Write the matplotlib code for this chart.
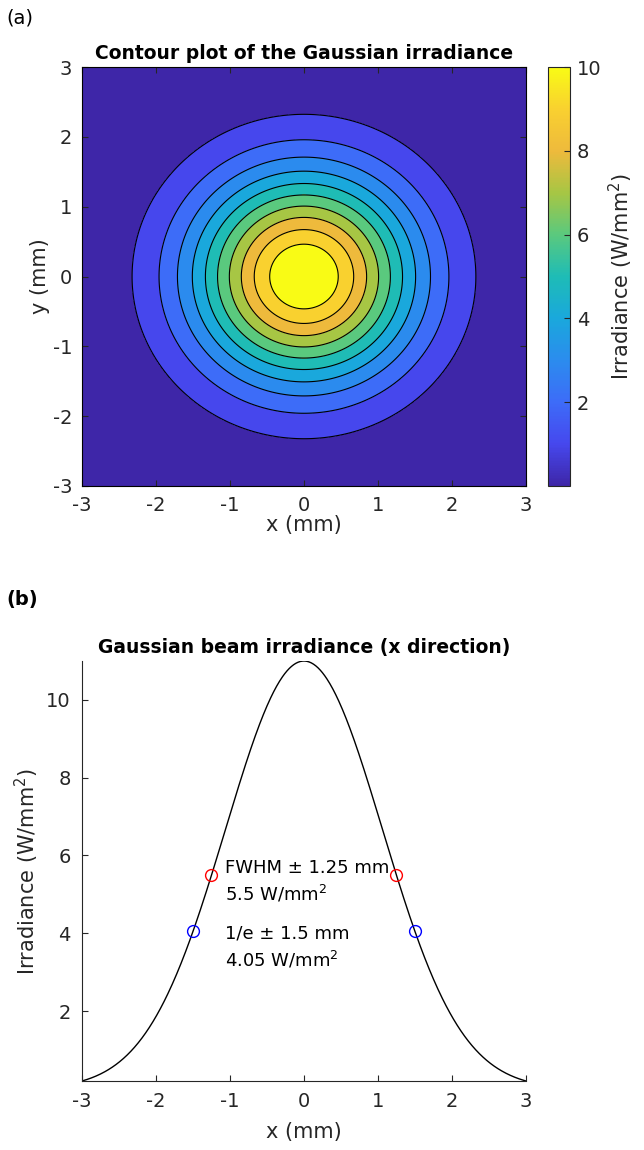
import numpy as np
import matplotlib
matplotlib.use("Agg")
import matplotlib.pyplot as plt
from matplotlib.colors import LinearSegmentedColormap, Normalize
from matplotlib.cm import ScalarMappable

# Beam values
peak_irr = 11.0          # W/mm^2, top of the profile
w_1e = 1.5               # mm, 1/e half width
fwhm_x = [-1.25, 1.25]
fwhm_y = [5.5, 5.5]
e_x = [-1.5, 1.5]
e_y = [4.05, 4.05]
contour_levels = [0, 1, 2, 3, 4, 5, 6, 7, 8, 9, 10, 11]
cbar_ticks = [2, 4, 6, 8, 10]
axis_ticks = [-3, -2, -1, 0, 1, 2, 3]
irr_ticks = [2, 4, 6, 8, 10]

# parula-like colormap
parula_pts = ['#3e26a8', '#4648ee', '#3d6cf8', '#2b8cee', '#1aa8dc', '#1ebcb6',
              '#5ac97e', '#a6c644', '#eeba3c', '#f9d030', '#f9fb15']
parula = LinearSegmentedColormap.from_list('parula', parula_pts)

plt.rcParams['font.family'] = ['DejaVu Sans']
plt.rcParams['axes.unicode_minus'] = False
dark = '#262626'

fig = plt.figure(figsize=(6.44, 11.5), dpi=100)

# ---- (a) contour plot ----
ax1 = fig.add_axes([0.1273, 0.5774, 0.6894, 0.3643])
x = np.linspace(-3, 3, 401)
X, Y = np.meshgrid(x, x)
Z = peak_irr * np.exp(-(X**2 + Y**2) / w_1e**2)

norm = Normalize(0, 10)
fill_cols = [parula(norm(l)) for l in contour_levels[:-1]]
ax1.contourf(X, Y, Z, levels=contour_levels, colors=fill_cols)
ax1.contour(X, Y, Z, levels=contour_levels[1:-1], colors='k', linewidths=0.8)
ax1.set_xlim(-3, 3)
ax1.set_ylim(-3, 3)
ax1.set_xticks(axis_ticks)
ax1.set_yticks(axis_ticks)
ax1.set_xlabel('x (mm)', fontsize=15, color=dark, labelpad=0)
ax1.set_ylabel('y (mm)', fontsize=15, color=dark, labelpad=2)
ax1.set_title('Contour plot of the Gaussian irradiance', fontsize=13.5,
              fontweight='bold', color='black', pad=6)
ax1.tick_params(direction='in', top=True, right=True, labelsize=14,
                colors=dark, length=4, pad=7)

cax = fig.add_axes([0.8509, 0.5774, 0.0342, 0.3643])
cb = fig.colorbar(ScalarMappable(norm=norm, cmap=parula), cax=cax)
cb.set_ticks(cbar_ticks)
cb.ax.tick_params(direction='in', labelsize=14, colors=dark, length=4, pad=5)
cb.set_label('Irradiance (W/mm$^2$)', fontsize=15, color=dark, labelpad=4)
cb.outline.set_edgecolor(dark)

# ---- (b) profile ----
ax2 = fig.add_axes([0.1273, 0.06, 0.6894, 0.3652])
xp = np.linspace(-3, 3, 601)
ax2.plot(xp, peak_irr * np.exp(-xp**2 / w_1e**2), color='k', lw=1)
ax2.plot(fwhm_x, fwhm_y, 'o', mfc='none', mec='red', ms=8.5, mew=1)
ax2.plot(e_x, e_y, 'o', mfc='none', mec='blue', ms=8.5, mew=1)
ax2.text(-1.07, 5.33, 'FWHM \u00b1 1.25 mm\n5.5 W/mm$^2$', fontsize=13,
         va='center', ha='left', linespacing=1.4)
ax2.text(-1.07, 3.64, '1/e \u00b1 1.5 mm\n4.05 W/mm$^2$', fontsize=13,
         va='center', ha='left', linespacing=1.4)
ax2.set_xlim(-3, 3)
ax2.set_ylim(peak_irr * np.exp(-9 / w_1e**2), peak_irr)
ax2.set_xticks(axis_ticks)
ax2.set_yticks(irr_ticks)
ax2.spines['top'].set_visible(False)
ax2.spines['right'].set_visible(False)
ax2.spines['left'].set_color(dark)
ax2.spines['bottom'].set_color(dark)
ax2.tick_params(direction='in', labelsize=14, colors=dark, length=4, pad=8)
ax2.set_xlabel('x (mm)', fontsize=15, color=dark, labelpad=8)
ax2.set_ylabel('Irradiance (W/mm$^2$)', fontsize=15, color=dark, labelpad=4)
ax2.set_title('Gaussian beam irradiance (x direction)', fontsize=13.5,
              fontweight='bold', color='black', pad=6)

fig.text(6 / 644, 1 - 18 / 1150, '(a)', fontsize=14, va='center', ha='left')
fig.text(6 / 644, 1 - 600 / 1150, '(b)', fontsize=14, va='center', ha='left',
         fontweight='bold')

fig.savefig('out.png', dpi=100)
